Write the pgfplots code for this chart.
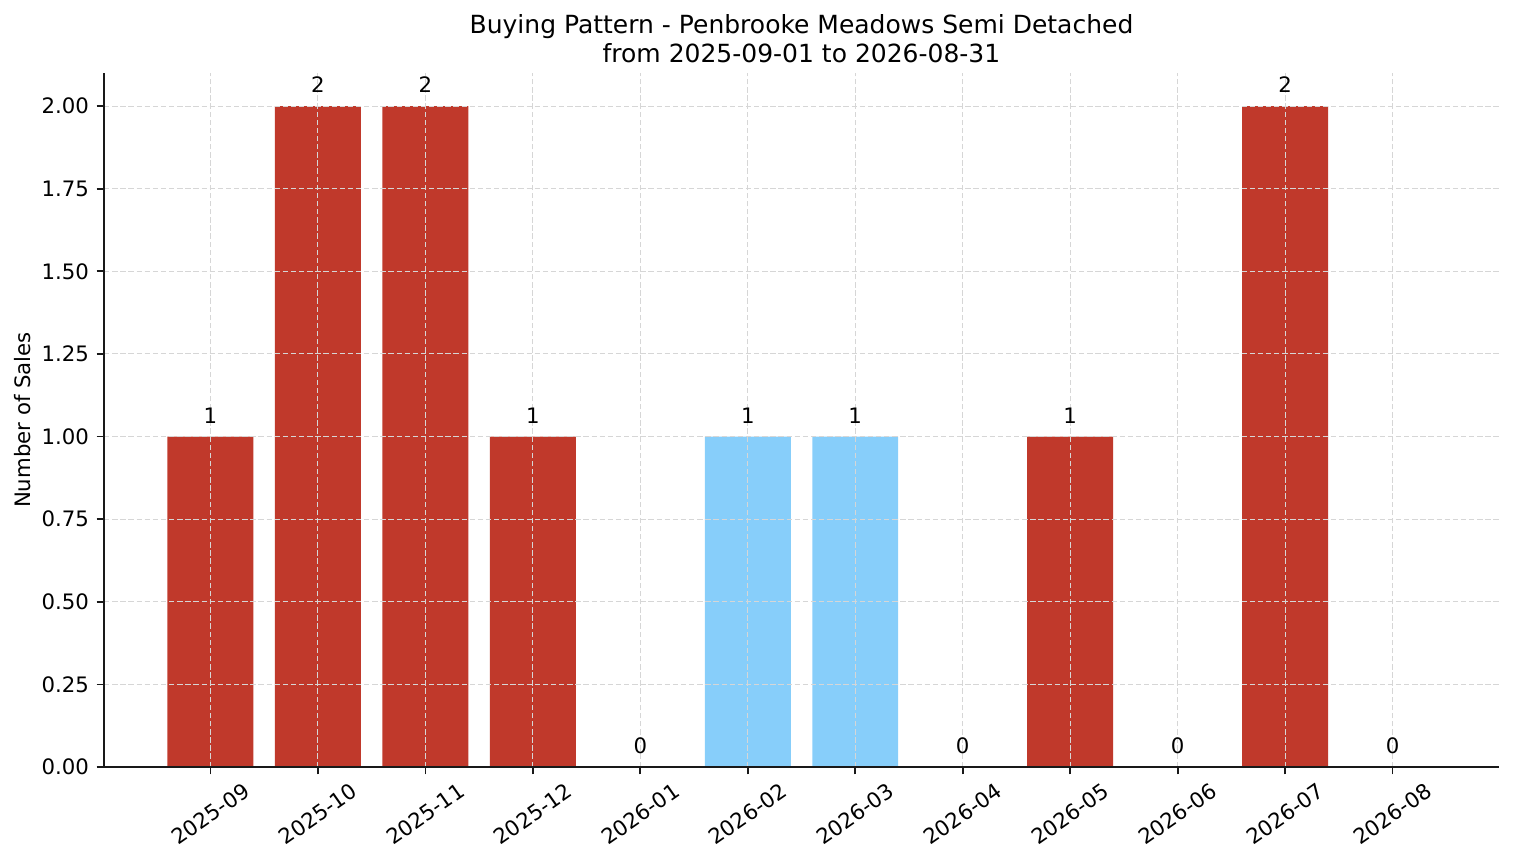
\documentclass[border=0pt]{standalone}
\usepackage{fontspec}
\setmainfont{DejaVu Sans}
\usepackage{pgfplots}
\pgfplotsset{compat=1.18}
\definecolor{barred}{HTML}{C0392B}
\definecolor{barblue}{HTML}{87CEFA}
\definecolor{gridgray}{HTML}{D6D6D6}
\newcommand{\ticksize}{\fontsize{10.2}{12}\selectfont}
\begin{document}
\begin{tikzpicture}
% fixed page: matches the reference margins around the axis box
\path[use as bounding box] (-49.92pt,-46.08pt) rectangle (676.8pt,368.16pt);
\begin{axis}[
  at={(0,0)}, anchor=south west,
  scale only axis, width=669.6pt, height=333.1pt,
  xmin=-0.99, xmax=11.99, ymin=0, ymax=2.1,
  axis x line*=bottom, axis y line*=left,
  axis line style={line width=0.8pt, black!90},
  every tick/.style={line width=0.8pt, black!90},
  major tick length=3.5pt, tick align=outside,
  axis on top,
  grid=major,
  major grid style={gridgray, line width=0.45pt, dash pattern=on 2.6pt off 1.3pt},
  xtick={0,...,11},
  xticklabels={\rotatebox{35}{2025-09},\rotatebox{35}{2025-10},\rotatebox{35}{2025-11},
    \rotatebox{35}{2025-12},\rotatebox{35}{2026-01},\rotatebox{35}{2026-02},
    \rotatebox{35}{2026-03},\rotatebox{35}{2026-04},\rotatebox{35}{2026-05},
    \rotatebox{35}{2026-06},\rotatebox{35}{2026-07},\rotatebox{35}{2026-08}},
  xticklabel style={font=\ticksize, anchor=north, inner sep=0pt, yshift=-3.5pt},
  ytick={0,0.25,...,2.01},
  yticklabel style={font=\ticksize, /pgf/number format/fixed,
    /pgf/number format/fixed zerofill, /pgf/number format/precision=2,
    anchor=east, inner sep=0pt, xshift=-3.5pt},
  /pgf/number format/assume math mode=true,
  ylabel={Number of Sales},
  ylabel style={font=\ticksize, at={(axis description cs:-0.0587,0.5)}, anchor=center},
  title={Buying Pattern - Penbrooke Meadows Semi Detached\\from 2025-09-01 to 2026-08-31},
  title style={font=\fontsize{12}{13.6}\selectfont, align=center,
    at={(axis description cs:0.5,1)}, anchor=south, inner sep=0pt, yshift=-1.2pt},
  nodes near coords,
  nodes near coords style={font=\ticksize, text=black, anchor=south,
    inner sep=0pt, yshift=6.2pt},
]
\addplot[ybar, bar width=0.8, bar shift=0pt, fill=barred, draw=none]
  coordinates {(0,1) (1,2) (2,2) (3,1) (4,0) (7,0) (8,1) (9,0) (10,2) (11,0)};
\addplot[ybar, bar width=0.8, bar shift=0pt, fill=barblue, draw=none]
  coordinates {(5,1) (6,1)};
\end{axis}
\end{tikzpicture}
\end{document}
